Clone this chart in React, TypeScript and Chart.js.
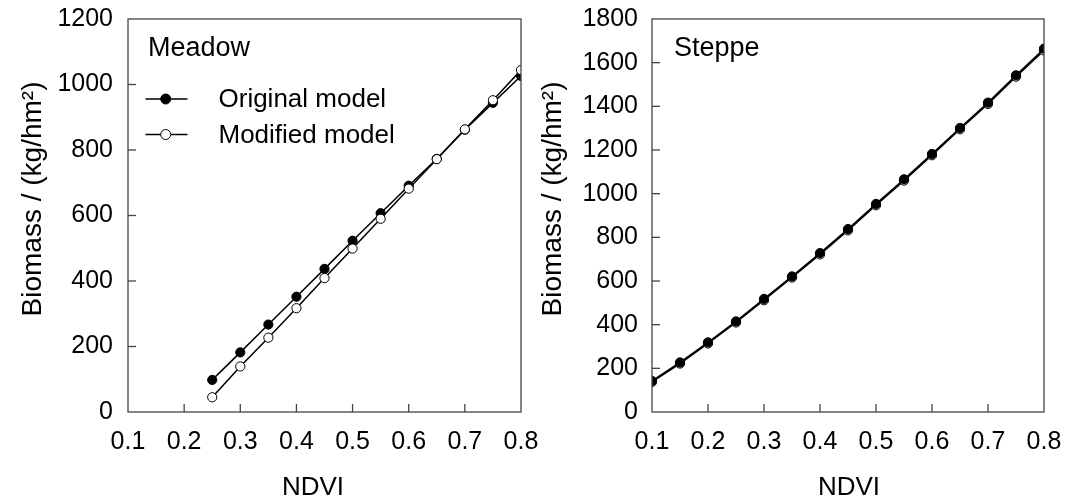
import React, { useEffect, useRef } from "react";
import { Chart, registerables } from "chart.js";

Chart.register(...registerables);

const FONT = "'Liberation Sans', Arial, sans-serif";

const ndviMeadow = [0.25, 0.3, 0.35, 0.4, 0.45, 0.5, 0.55, 0.6, 0.65, 0.7, 0.75, 0.8];
const meadowOriginal = [98, 182, 267, 352, 437, 523, 607, 691, 773, 862, 944, 1026];
const meadowModified = [45, 139, 227, 317, 409, 499, 590, 682, 772, 863, 952, 1044];

const ndviSteppe = [0.1, 0.15, 0.2, 0.25, 0.3, 0.35, 0.4, 0.45, 0.5, 0.55, 0.6, 0.65, 0.7, 0.75, 0.8];
const steppeOriginal = [142, 227, 319, 415, 518, 621, 728, 838, 953, 1066, 1182, 1301, 1417, 1542, 1664];
const steppeModified = [138, 222, 314, 410, 512, 616, 722, 832, 947, 1060, 1176, 1295, 1411, 1536, 1656];

const seriesNames = ["Original model", "Modified model"];
const yTitle = "Biomass / (kg/hm²)";
const xTitle = "NDVI";

const FRAME = "#444";

type Deco = {
  label: string;
  labelX: number;
  legend: boolean;
  yTitleX: number;
  xTitleX: number;
};

function makeFramePlugin(d: Deco) {
  return {
    id: "frame",
    afterDraw(chart: any) {
      const ctx = chart.ctx;
      const a = chart.chartArea;
      ctx.save();
      ctx.strokeStyle = FRAME;
      ctx.lineWidth = 1.3;
      ctx.strokeRect(a.left, a.top, a.right - a.left, a.bottom - a.top);
      // inward ticks
      const ys = chart.scales.y;
      ys.ticks.forEach((t: any) => {
        const p = ys.getPixelForValue(t.value);
        if (Math.abs(p - a.top) < 1 || Math.abs(p - a.bottom) < 1) return;
        ctx.beginPath();
        ctx.moveTo(a.left, p);
        ctx.lineTo(a.left + 8, p);
        ctx.stroke();
      });
      const xs = chart.scales.x;
      xs.ticks.forEach((t: any) => {
        const p = xs.getPixelForValue(t.value);
        if (Math.abs(p - a.left) < 1 || Math.abs(p - a.right) < 1) return;
        ctx.beginPath();
        ctx.moveTo(p, a.bottom);
        ctx.lineTo(p, a.bottom - 8);
        ctx.stroke();
      });
      ctx.fillStyle = "#000";
      ctx.textBaseline = "middle";
      ctx.textAlign = "center";
      // axis titles
      ctx.font = `26px ${FONT}`;
      ctx.fillText(xTitle, d.xTitleX, 487.5);
      ctx.save();
      ctx.translate(d.yTitleX, 199);
      ctx.rotate(-Math.PI / 2);
      ctx.font = `28px ${FONT}`;
      ctx.fillText(yTitle, 0, 0);
      ctx.restore();
      // panel label
      ctx.textAlign = "left";
      ctx.font = `27px ${FONT}`;
      ctx.fillText(d.label, d.labelX, 49);
      if (d.legend) {
        ctx.font = `26px ${FONT}`;
        const rows = [
          { y: 99, fill: "#000", text: seriesNames[0] },
          { y: 134.5, fill: "#fff", text: seriesNames[1] },
        ];
        rows.forEach((r) => {
          ctx.strokeStyle = "#000";
          ctx.lineWidth = 1.5;
          ctx.beginPath();
          ctx.moveTo(145.5, r.y);
          ctx.lineTo(187.5, r.y);
          ctx.stroke();
          ctx.beginPath();
          ctx.arc(165.7, r.y, 5, 0, Math.PI * 2);
          ctx.fillStyle = r.fill;
          ctx.fill();
          ctx.lineWidth = 1;
          ctx.stroke();
          ctx.fillStyle = "#000";
          ctx.fillText(r.text, 218.5, r.y + 1);
        });
      }
      ctx.restore();
    },
  };
}

function buildConfig(opts: {
  datasets: any[];
  yMax: number;
  yLeft: number;
  padRight: number;
  yPad: number;
  deco: Deco;
}) {
  return {
    type: "line" as const,
    data: { datasets: opts.datasets },
    options: {
      animation: false as const,
      responsive: false,
      maintainAspectRatio: false,
      layout: { padding: { left: 0, top: 19, right: opts.padRight, bottom: 0 } },
      plugins: { legend: { display: false }, tooltip: { enabled: false } },
      scales: {
        x: {
          type: "linear" as const,
          min: 0.1,
          max: 0.8,
          grid: { display: false, drawTicks: false },
          border: { display: false },
          ticks: {
            stepSize: 0.1,
            padding: 15.5,
            color: "#000",
            font: { family: FONT, size: 25 },
            callback: (v: any) => Number(v).toFixed(1),
          },
          title: { display: false },
          afterFit: (s: any) => {
            s.height = 90;
            s.paddingLeft = 0;
            s.paddingRight = 0;
          },
        },
        y: {
          type: "linear" as const,
          min: 0,
          max: opts.yMax,
          grid: { display: false, drawTicks: false },
          border: { display: false },
          ticks: {
            stepSize: 200,
            padding: opts.yPad,
            color: "#000",
            font: { family: FONT, size: 25 },
            callback: (v: any) => String(Math.round(Number(v))),
          },
          title: { display: false },
          afterFit: (s: any) => {
            s.width = opts.yLeft;
            s.paddingTop = 0;
            s.paddingBottom = 0;
          },
        },
      },
    },
    plugins: [makeFramePlugin(opts.deco)],
  };
}

function series(xs: number[], ys: number[], filled: boolean, order: number) {
  return {
    label: filled ? seriesNames[0] : seriesNames[1],
    data: xs.map((x, i) => ({ x, y: ys[i] })),
    borderColor: "#000",
    borderWidth: 1.5,
    backgroundColor: filled ? "#000" : "#fff",
    pointBackgroundColor: filled ? "#000" : "#fff",
    pointBorderColor: "#000",
    pointBorderWidth: 1,
    pointRadius: 4.6,
    tension: 0,
    fill: false,
    order,
  };
}

export default function App() {
  const leftRef = useRef<HTMLCanvasElement>(null);
  const rightRef = useRef<HTMLCanvasElement>(null);

  useEffect(() => {
    const left = new Chart(
      leftRef.current!,
      buildConfig({
        datasets: [
          series(ndviMeadow, meadowModified, false, 0),
          series(ndviMeadow, meadowOriginal, true, 1),
        ],
        yMax: 1200,
        yLeft: 128,
        padRight: 19,
        yPad: 15,
        deco: { label: "Meadow", labelX: 148, legend: true, yTitleX: 33, xTitleX: 313 },
      }) as any
    );
    const right = new Chart(
      rightRef.current!,
      buildConfig({
        datasets: [
          series(ndviSteppe, steppeOriginal, true, 0),
          series(ndviSteppe, steppeModified, false, 1),
        ],
        yMax: 1800,
        yLeft: 112,
        padRight: 34,
        yPad: 14,
        deco: { label: "Steppe", labelX: 134, legend: false, yTitleX: 13, xTitleX: 309 },
      }) as any
    );
    return () => {
      left.destroy();
      right.destroy();
    };
  }, []);

  return (
    <div style={{ position: "absolute", left: 0, top: 0, width: 1078, height: 502, background: "#fff" }}>
      <canvas ref={leftRef} width={540} height={502} style={{ position: "absolute", left: 0, top: 0, width: 540, height: 502 }} />
      <canvas ref={rightRef} width={538} height={502} style={{ position: "absolute", left: 540, top: 0, width: 538, height: 502 }} />
    </div>
  );
}
